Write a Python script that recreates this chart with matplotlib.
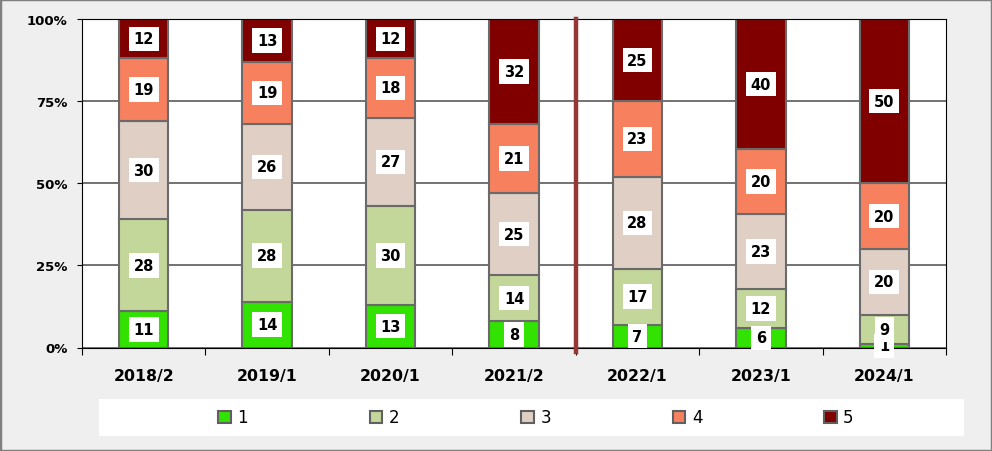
import matplotlib
matplotlib.use("Agg")
import matplotlib.pyplot as plt
from matplotlib.patches import Rectangle, Patch
import numpy as np

categories = ["2018/2", "2019/1", "2020/1", "2021/2", "2022/1", "2023/1", "2024/1"]
series_names = ["1", "2", "3", "4", "5"]
s1 = [11, 14, 13, 8, 7, 6, 1]
s2 = [28, 28, 30, 14, 17, 12, 9]
s3 = [30, 26, 27, 25, 28, 23, 20]
s4 = [19, 19, 18, 21, 23, 20, 20]
s5 = [12, 13, 12, 32, 25, 40, 50]
colors = ["#32E200", "#C4D79B", "#E0CFC4", "#F7805F", "#800000"]
yticks = [0, 25, 50, 75, 100]
ytick_labels = ["0%", "25%", "50%", "75%", "100%"]
divider_after = 3  # vertical line between 2021/2 and 2022/1

W, H = 992, 452
fig = plt.figure(figsize=(W / 100, H / 100), dpi=100)
fig.patch.set_facecolor("#EFEFEF")

ax = fig.add_axes([82 / W, 1 - 348.5 / H, 864 / W, 328.5 / H])
ax.set_facecolor("white")

data = np.array([s1, s2, s3, s4, s5], dtype=float)
totals = data.sum(axis=0)
pct = data / totals * 100
x = np.arange(len(categories))

ax.set_axisbelow(True)
ax.yaxis.grid(True, color="#5A5A5A", linewidth=1.2)

bottom = np.zeros(len(categories))
for i in range(len(series_names)):
    ax.bar(x, pct[i], 0.4, bottom=bottom, color=colors[i],
           edgecolor="#6A6A6A", linewidth=1.5, zorder=2, label=series_names[i])
    for j in range(len(categories)):
        ax.text(x[j], bottom[j] + pct[i][j] / 2, f"{int(data[i][j])}",
                ha="center", va="center", fontsize=10.5, fontweight="bold",
                color="black", zorder=5,
                bbox=dict(boxstyle="square,pad=0.32", facecolor="white",
                          edgecolor="none"))
    bottom += pct[i]

ax.axvline(divider_after + 0.5, ymin=-0.014, ymax=1, color="#953735",
           linewidth=3.2, clip_on=False, zorder=6)

ax.set_xlim(-0.5, len(categories) - 0.5)
ax.set_ylim(0, 100)
ax.set_yticks(yticks)
ax.set_yticklabels(ytick_labels)
ax.set_xticks(x)
ax.set_xticklabels(categories)
ax.set_xticks(np.arange(-0.5, len(categories), 1), minor=True)
ax.tick_params(axis="x", which="major", length=0, pad=15, labelsize=11.3)
ax.tick_params(axis="x", which="minor", length=5, width=0.8, color="black")
ax.tick_params(axis="y", length=3.6, width=0.8, pad=7, labelsize=9.5)
for lab in ax.get_xticklabels() + ax.get_yticklabels():
    lab.set_fontweight("bold")
for sp in ax.spines.values():
    sp.set_color("black")
    sp.set_linewidth(0.8)

# legend area
fig.patches.append(Rectangle((99 / W, 1 - 437 / H), 865 / W, 37 / H,
                             transform=fig.transFigure, facecolor="white",
                             edgecolor="none", zorder=0))
handles = [Patch(facecolor=colors[i], edgecolor="#606060", linewidth=1.5,
                 label=series_names[i]) for i in range(len(series_names))]
fig.legend(handles=handles, loc="center", bbox_to_anchor=(536 / W, 1 - 418.5 / H),
           ncol=5, frameon=False, fontsize=12, handlelength=0.75,
           handleheight=0.75, handletextpad=0.4, columnspacing=7.3,
           borderpad=0, borderaxespad=0)

# figure border
fig.patches.append(Rectangle((0, 0), 1, 1, transform=fig.transFigure,
                             facecolor="none", edgecolor="#808080",
                             linewidth=2.5, zorder=10))

fig.savefig("out.png", dpi=100, facecolor=fig.get_facecolor())
